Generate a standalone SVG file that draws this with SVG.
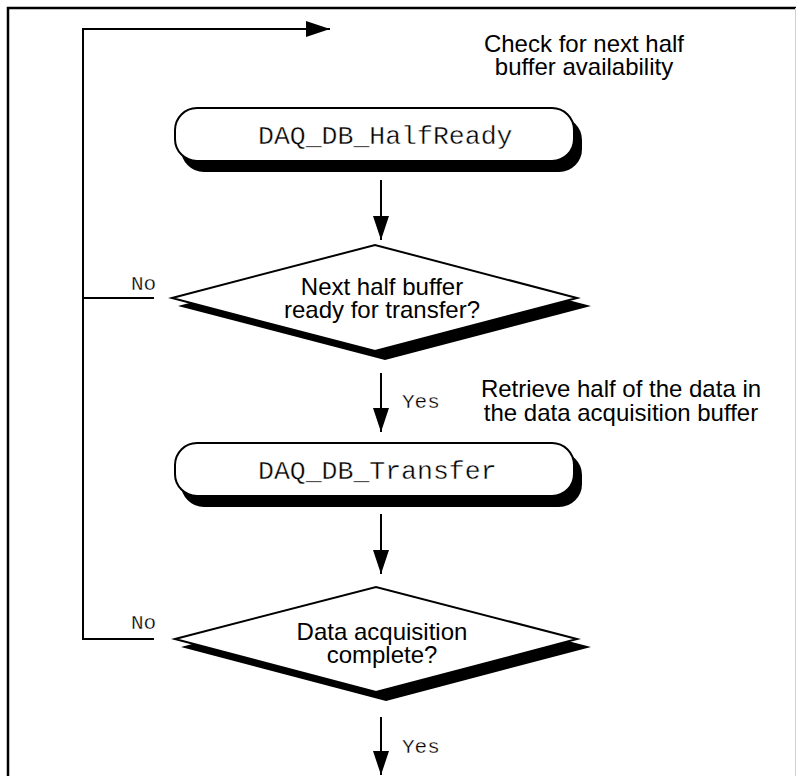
<svg xmlns="http://www.w3.org/2000/svg" width="796" height="776" viewBox="0 0 796 776">
  <style>
    .frame { fill: none; stroke: #000; stroke-width: 2.5; }
    .edge { fill: none; stroke: #d0d0d0; stroke-width: 1; }
    .box { fill: #fff; stroke: #000; stroke-width: 2; }
    .shadow { fill: #000; stroke: #000; stroke-width: 2; }
    .wire { fill: none; stroke: #000; stroke-width: 2; }
    .code { font-family: "Liberation Mono", "Courier New", monospace; font-size: 26.5px; fill: #000; stroke: #fff; stroke-width: 0.4px; }
    .tag { font-family: "Liberation Mono", "Courier New", monospace; font-size: 21px; fill: #000; stroke: #fff; stroke-width: 0.3px; }
    .note { font-family: "Liberation Sans", Arial, sans-serif; font-size: 24px; fill: #000; text-anchor: middle; }
  </style>
  <defs>
    <marker id="head" viewBox="0 0 24 16" refX="24" refY="8" markerWidth="24" markerHeight="16" markerUnits="userSpaceOnUse" orient="auto">
      <path d="M0,0 L24,8 L0,16 z" fill="#000"/>
    </marker>
  </defs>

  <rect width="796" height="776" fill="#fff"/>
  <!-- page frame -->
  <path class="frame" d="M8,776 V8 H796"/>
  <line class="edge" x1="795.5" y1="8" x2="795.5" y2="776"/>

  <!-- annotations -->
  <text class="note" x="584" y="52">Check for next half</text>
  <text class="note" x="584" y="75">buffer availability</text>
  <text class="note" x="621" y="397">Retrieve half of the data in</text>
  <text class="note" x="621" y="421">the data acquisition buffer</text>

  <!-- connectors -->
  <g id="connectors">
    <path class="wire" d="M154,639 H83 V29 H330" marker-end="url(#head)"/>
    <path class="wire" d="M154,298 H83"/>
    <line class="wire" x1="381" y1="180" x2="381" y2="240" marker-end="url(#head)"/>
    <line class="wire" x1="381" y1="373" x2="381" y2="432" marker-end="url(#head)"/>
    <line class="wire" x1="381" y1="514" x2="381" y2="574" marker-end="url(#head)"/>
    <line class="wire" x1="381" y1="717" x2="381" y2="775" marker-end="url(#head)"/>
    <text class="tag" x="131" y="290">No</text>
    <text class="tag" x="402" y="408">Yes</text>
    <text class="tag" x="131" y="629">No</text>
    <text class="tag" x="402" y="753">Yes</text>
  </g>

  <!-- DAQ_DB_HalfReady call -->
  <g id="halfready">
    <rect class="shadow" x="182" y="118" width="399" height="53" rx="22"/>
    <rect class="box" x="175" y="108" width="399" height="53" rx="22"/>
    <text class="code" x="258" y="144">DAQ_DB_HalfReady</text>
  </g>

  <!-- half buffer ready decision -->
  <g id="halfbuffer-ready">
    <polygon class="shadow" points="182,306 385,253 587,306 385,359"/>
    <polygon class="box" points="172,298 375,245 577,298 375,351"/>
    <text class="note" x="382" y="295">Next half buffer</text>
    <text class="note" x="382" y="318">ready for transfer?</text>
  </g>

  <!-- DAQ_DB_Transfer call -->
  <g id="transfer">
    <rect class="shadow" x="182" y="453" width="399" height="53" rx="22"/>
    <rect class="box" x="175" y="443" width="399" height="53" rx="22"/>
    <text class="code" x="258" y="479">DAQ_DB_Transfer</text>
  </g>

  <!-- acquisition complete decision -->
  <g id="acquisition-complete">
    <polygon class="shadow" points="185,647 386,595 587,647 386,700"/>
    <polygon class="box" points="175,639 376,587 577,639 376,692"/>
    <text class="note" x="382" y="640">Data acquisition</text>
    <text class="note" x="382" y="663">complete?</text>
  </g>
</svg>
